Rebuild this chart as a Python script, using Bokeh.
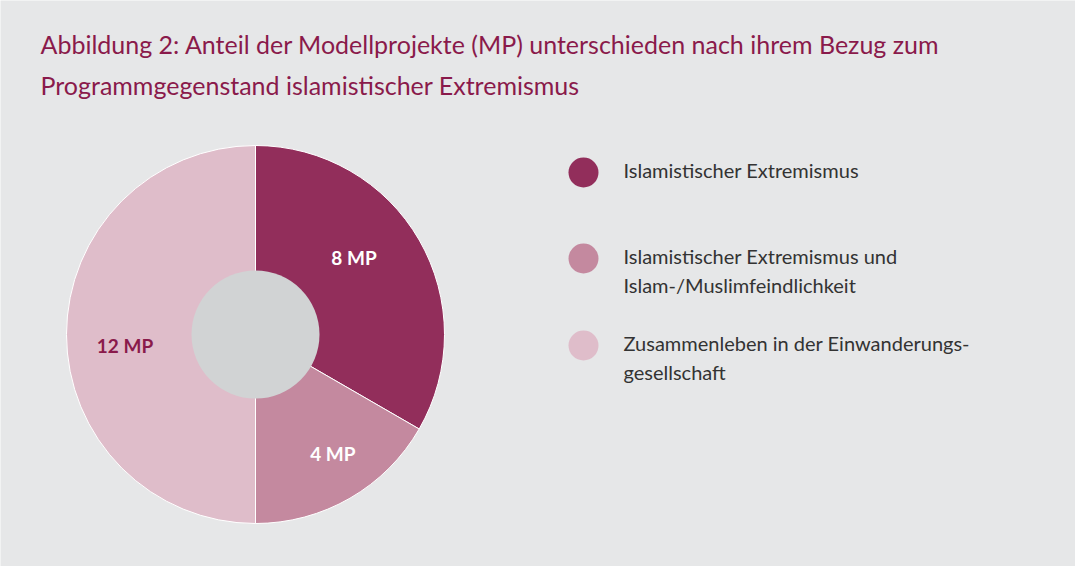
import numpy as np
from bokeh.plotting import figure
from bokeh.models import Range1d, ColumnDataSource
from bokeh.core.properties import value
from bokeh.embed import file_html
from bokeh.resources import INLINE

categories = ["Islamistischer Extremismus",
              "Islamistischer Extremismus und\nIslam-/Muslimfeindlichkeit",
              "Zusammenleben in der Einwanderungs-\ngesellschaft"]
counts = [8, 4, 12]
labels = ["8 MP", "4 MP", "12 MP"]
colors = ["#922e5b", "#c4899f", "#dfbdca"]
label_colors = ["#ffffff", "#ffffff", "#8a1a4b"]
title_lines = ["Abbildung 2: Anteil der Modellprojekte (MP) unterschieden nach ihrem Bezug zum",
               "Programmgegenstand islamistischer Extremismus"]

W, H = 1075, 566
BG = "#e6e7e8"
FONT = "Lato"

p = figure(width=W, height=H, x_range=Range1d(0, W), y_range=Range1d(0, H),
           output_backend="svg", toolbar_location=None, min_border=0)
p.axis.visible = False
p.grid.visible = False
p.outline_line_color = None
p.background_fill_color = BG
p.border_fill_color = BG

cx, cy = 255, 232
r_out, r_in = 189, 64

total = sum(counts)
cum = np.concatenate([[0], np.cumsum(counts)])
start = np.pi / 2 - 2 * np.pi * cum[:-1] / total
end = np.pi / 2 - 2 * np.pi * cum[1:] / total
mid = (start + end) / 2

src = ColumnDataSource(dict(start=list(end), end=list(start), color=colors))
p.wedge(x=cx, y=cy, radius=r_out, start_angle="start", end_angle="end",
        fill_color="color", line_color="white", line_width=1, source=src)
p.circle(x=cx, y=cy, radius=r_in, fill_color="#d1d3d4", line_color=None)

# slice labels (placement tweaks relative to slice mid-angle)
lab_r = [125, 142, 131]
lab_da = np.radians([8, 3, 5])
ang = mid + lab_da
lx = [cx + r * np.cos(a) for r, a in zip(lab_r, ang)]
ly = [cy + r * np.sin(a) for r, a in zip(lab_r, ang)]
lsrc = ColumnDataSource(dict(x=lx, y=ly, text=labels, color=label_colors))
p.text(x="x", y="y", text="text", text_color="color", source=lsrc,
       text_font=value(FONT), text_font_style="bold", text_font_size="19px",
       text_align="center", text_baseline="middle")

# title
p.text(x=[40, 40], y=[H - 43, H - 84], text=title_lines, text_color="#8a1a4b",
       text_font=value(FONT), text_font_size="25px", text_baseline="middle")

# legend
leg_y = [H - 172, H - 258, H - 345]
p.circle(x=[583] * 3, y=leg_y, radius=15, fill_color=colors, line_color=None)
p.text(x=[623] * 3, y=[y + 15 for y in leg_y], text=categories, text_color="#333333",
       text_font=value(FONT), text_font_size="20px", text_baseline="top",
       text_line_height=1.24)

open("out.html", "w").write(file_html(p, INLINE))
